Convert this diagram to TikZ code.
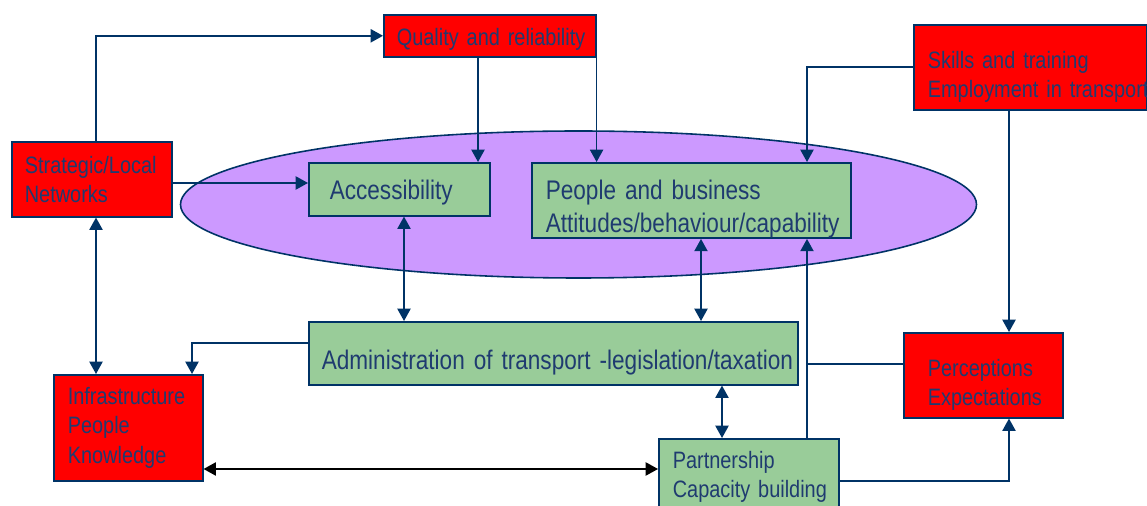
\documentclass[tikz,border=0pt]{standalone}
\usepackage{fontspec}
\setmainfont[FakeStretch=0.84]{Liberation Sans}
\usetikzlibrary{arrows.meta,shapes.geometric}
\definecolor{linecol}{HTML}{003366}
\definecolor{textcol}{HTML}{1F3B70}
\definecolor{boxred}{HTML}{FF0000}
\definecolor{boxgreen}{HTML}{99CC99}
\definecolor{cloudcol}{HTML}{CC99FF}
\begin{document}
\begin{tikzpicture}[x=0.02cm,y=-0.02cm,>={Triangle[length=7pt,width=7.5pt]},
    line width=0.9pt,
    box/.style={draw=linecol,anchor=north west,align=left,text=textcol,inner ysep=0pt},
    redbox/.style={box,fill=boxred,font=\fontsize{13.5}{16.6}\selectfont},
    greenbox/.style={box,fill=boxgreen,font=\fontsize{15.3}{18.7}\selectfont},
    conn/.style={->,draw=linecol},
    dconn/.style={<->,draw=linecol}]
            \def\u{0.02cm}
            \def\low{\rule{0pt}{21pt}}
            \useasboundingbox (0,0) rectangle (1147,506);

            % the big ellipse first, boxes sit on it
            \node[ellipse,draw=linecol,fill=cloudcol,minimum width=796*\u,minimum height=147*\u] (cloud) at (578.5,204.5) {};

            \node[redbox,text width=186*\u,inner xsep=13*\u,minimum height=42*\u] (quality) at (383,14) {\rule{0pt}{14pt}\mbox{Quality and reliability}};
            \node[redbox,text width=134*\u,inner xsep=13*\u,minimum height=75*\u] (strat) at (11,141) {\mbox{Strategic/Local}\\\mbox{Networks}};
            \node[redbox,text width=205*\u,inner xsep=14*\u,minimum height=85*\u] (skills) at (913,24) {\low\mbox{Skills and training}\\\mbox{Employment in transport}};
            \node[redbox,text width=121*\u,inner xsep=14*\u,minimum height=106*\u] (infra) at (53,374) {\mbox{Infrastructure}\\\mbox{People}\\\mbox{Knowledge}};
            \node[redbox,text width=111*\u,inner xsep=24*\u,minimum height=85*\u] (percep) at (903,332) {\low\mbox{Perceptions}\\\mbox{Expectations}};

            \node[greenbox,text width=139*\u,inner xsep=21*\u,minimum height=53*\u] (acc) at (308,162) {\rule{0pt}{15pt}\mbox{Accessibility}};
            \node[greenbox,text width=291*\u,inner xsep=14*\u,minimum height=74*\u] (people) at (531,162) {\low\mbox{People and business}\\\mbox{Attitudes/behaviour/capability}};
            \node[greenbox,text width=463*\u,inner xsep=13*\u,minimum height=63*\u] (admin) at (308,321) {\rule{0pt}{22pt}\mbox{Administration of transport -legislation/taxation}};
            \node[greenbox,font=\fontsize{13.5}{16.6}\selectfont,text width=152*\u,inner xsep=14*\u,minimum height=76*\u] (partner) at (658,438) {\mbox{Partnership}\\\mbox{Capacity building}};

            \coordinate (joint) at (807,364);

            \draw[conn] (strat.north -| 96,0) |- (quality.west);
            \draw[conn] (strat.east |- 0,183) -- (acc.west |- 0,183);
            \draw[conn] (quality.south -| 478,0) -- (acc.north -| 478,0);
            \draw[conn] (quality.south east) -- (people.north -| quality.south east);
            \draw[conn] (skills.west |- 0,67) -| (people.north -| 807,0);
            \draw[conn] (skills.south -| 1009,0) -- (percep.north -| 1009,0);
            \draw[dconn] (strat.south -| 96,0) -- (infra.north -| 96,0);
            \draw[dconn] (acc.south -| 404,0) -- (admin.north -| 404,0);
            \draw[dconn] (people.south -| 701,0) -- (admin.north -| 701,0);
            \draw[conn] (admin.west |- 0,343) -| (infra.north -| 192,0);
            \draw[dconn] (admin.south -| 722,0) -- (partner.north -| 722,0);
            \draw[<->,black] (infra.east |- 0,469) -- (partner.west |- 0,469);
            \draw[conn] (partner.east |- 0,481) -| (percep.south -| 1009,0);
            \draw[conn] (partner.north -| joint) -- (people.south -| joint);
            \draw[linecol] (percep.west |- joint) -- (joint);
        \end{tikzpicture}
\end{document}
